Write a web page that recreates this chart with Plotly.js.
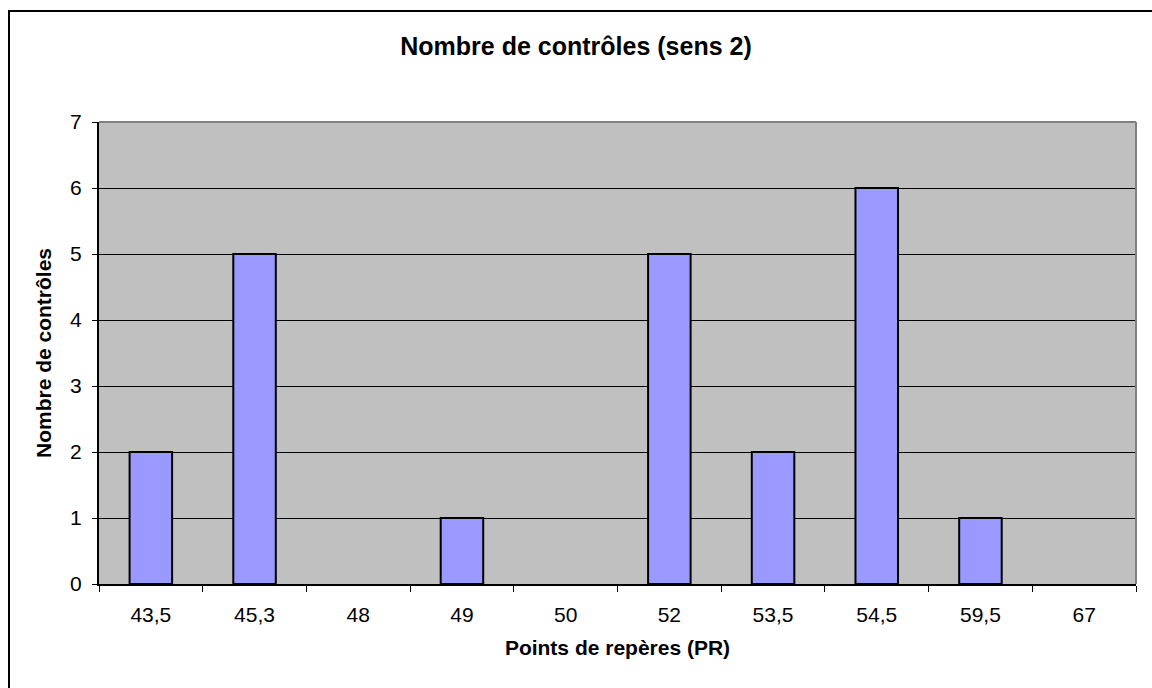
<!DOCTYPE html>
<html>
<head>
<meta charset="utf-8">
<script src="https://cdn.plot.ly/plotly-3.0.1.min.js"></script>
<style>
html,body{margin:0;padding:0;background:#fff;}
#frame{position:absolute;left:8px;top:10px;width:1160px;height:700px;border-left:2px solid #000;border-top:2px solid #000;box-sizing:border-box;}
#chart{position:absolute;left:0;top:0;width:1152px;height:688px;}
</style>
</head>
<body>
<div id="frame"></div>
<div id="chart"></div>
<script>
const categories = ["43,5","45,3","48","49","50","52","53,5","54,5","59,5","67"];
const counts = [2,5,0,1,0,5,2,6,1,0];
const chartTitle = "Nombre de contrôles (sens 2)";
const xTitle = "Points de repères (PR)";
const yTitle = "Nombre de contrôles";

const font = "'Liberation Sans', Arial, sans-serif";

Plotly.newPlot("chart", [{
  type: "bar",
  x: categories,
  y: counts,
  marker: {color: "#9999FF", line: {color: "#000", width: counts.map(v => v > 0 ? 2 : 0)}},
  hoverinfo: "x+y"
}], {
  width: 1152, height: 688,
  paper_bgcolor: "rgba(0,0,0,0)",
  plot_bgcolor: "#C0C0C0",
  margin: {l: 99, r: 16, t: 122, b: 104},
  bargap: 0.59,
  showlegend: false,
  font: {family: font, color: "#000", size: 21},
  title: {text: "<b>" + chartTitle + "</b>", font: {family: font, size: 25, color: "#000"}, x: 0.5, xanchor: "center", y: 0.933, yanchor: "middle"},
  xaxis: {
    type: "category",
    title: {text: "<b>" + xTitle + "</b>", font: {family: font, size: 21}, standoff: 15},
    tickson: "boundaries", ticks: "outside", ticklen: 6, tickcolor: "#000", tickwidth: 1,
    showline: true, linecolor: "#000", linewidth: 2,
    showgrid: false, zeroline: false,
    tickfont: {family: font, size: 21},
    ticklabelstandoff: 11
  },
  yaxis: {
    range: [0, 7], dtick: 1, tick0: 0,
    title: {text: "<b>" + yTitle + "</b>", font: {family: font, size: 21}, standoff: 13},
    ticks: "outside", ticklen: 5, tickcolor: "#000", tickwidth: 1,
    showline: true, linecolor: "#000", linewidth: 2,
    showgrid: true, gridcolor: "#000", gridwidth: 1,
    zeroline: false,
    tickfont: {family: font, size: 21},
    ticklabelstandoff: 6
  },
  shapes: [
    {type: "line", xref: "paper", yref: "paper", x0: 0, x1: 1, y0: 1, y1: 1, line: {color: "#808080", width: 2}},
    {type: "line", xref: "paper", yref: "paper", x0: 1, x1: 1, y0: 0, y1: 1, line: {color: "#808080", width: 2}}
  ]
}, {displayModeBar: false});
</script>
</body>
</html>
